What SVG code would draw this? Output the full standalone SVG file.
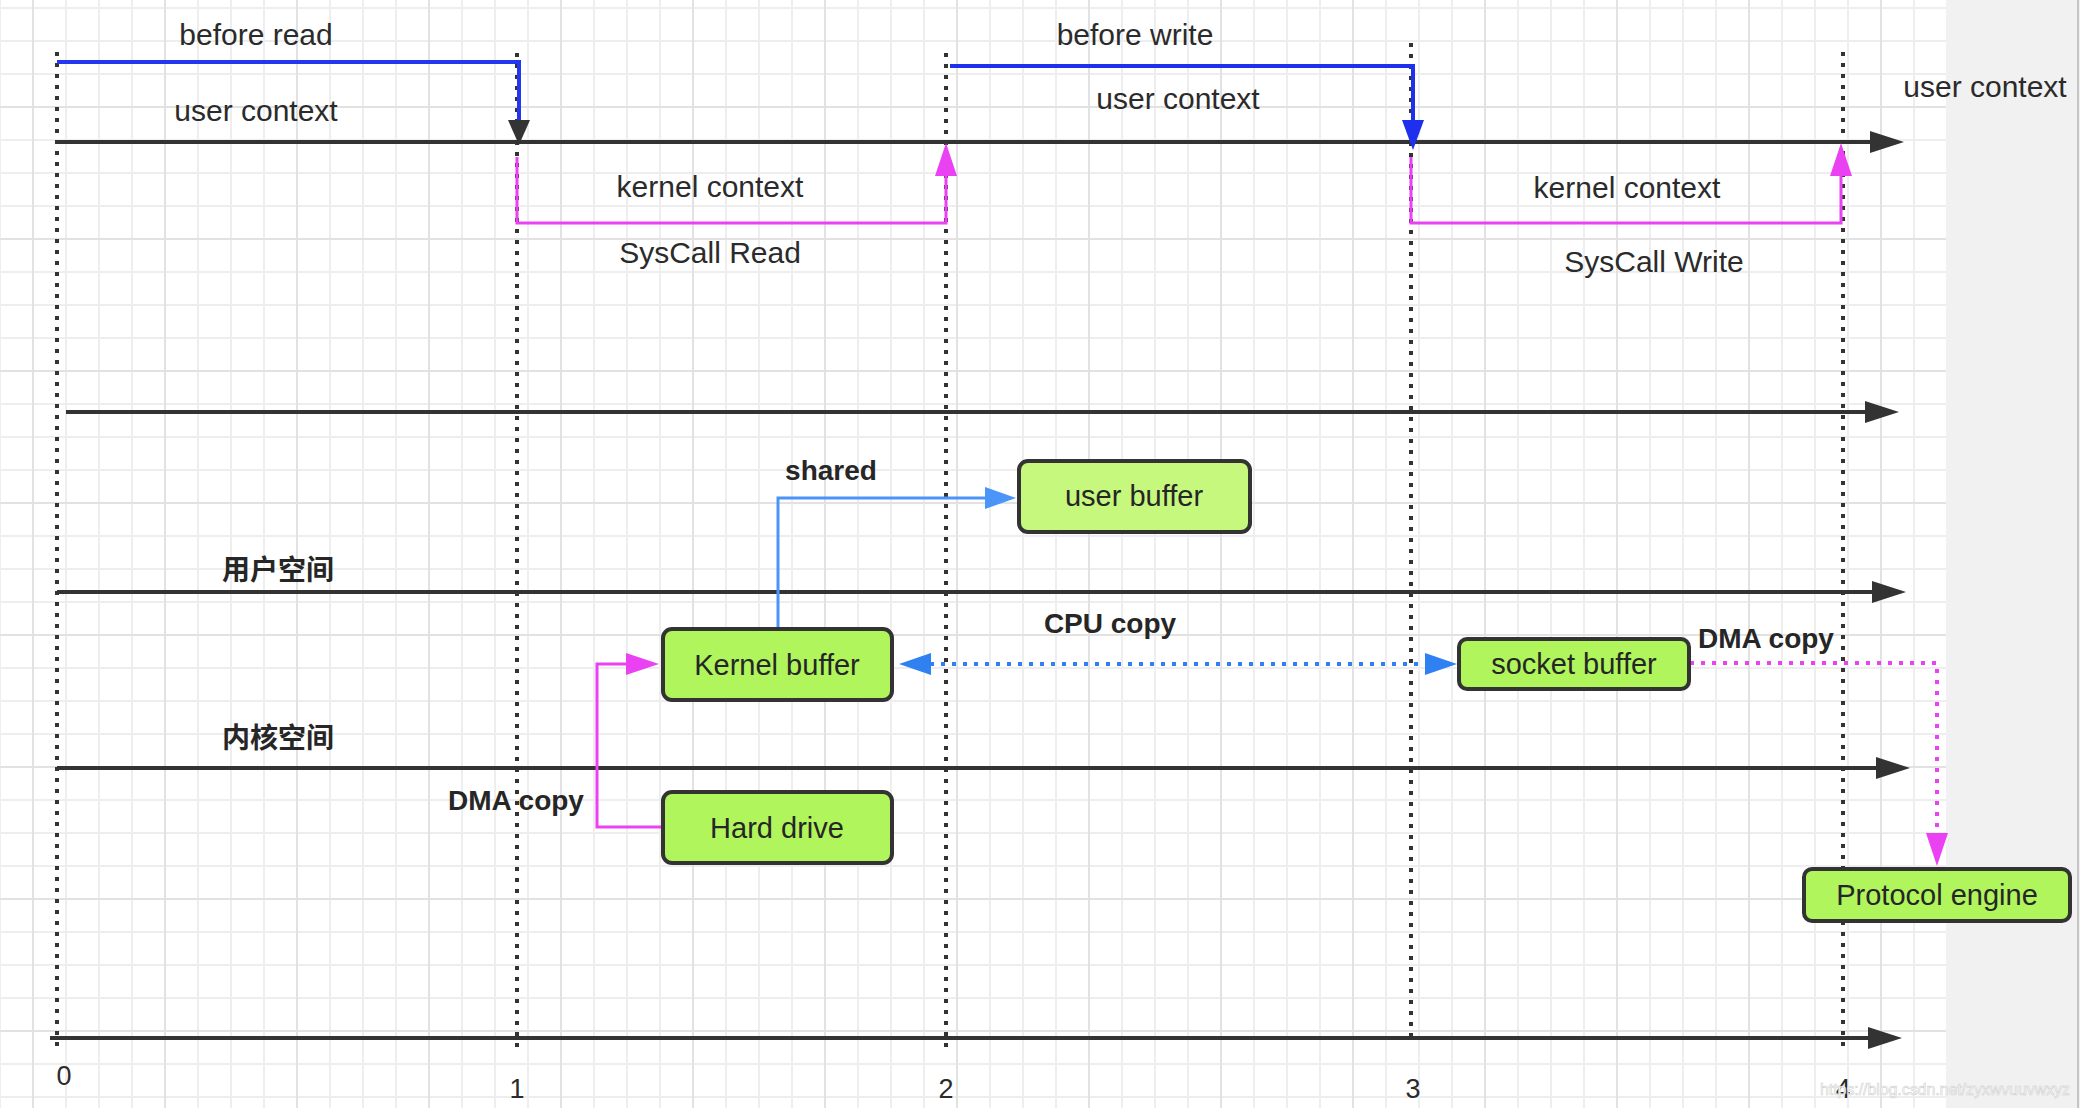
<svg xmlns="http://www.w3.org/2000/svg" width="2080" height="1108" viewBox="0 0 2080 1108">
<style>
.t{font-family:"Liberation Sans",Arial,sans-serif;font-size:30px;fill:#2b2b2b;text-anchor:middle}
.b{font-family:"Liberation Sans",Arial,sans-serif;font-size:28px;fill:#262626;text-anchor:middle;font-weight:bold}
.cjk{font-family:"Liberation Sans","Noto Sans CJK SC",sans-serif;font-size:28px;fill:#262626;text-anchor:middle;font-weight:bold}
.n{font-family:"Liberation Sans",Arial,sans-serif;font-size:27px;fill:#2b2b2b;text-anchor:middle}
.bt{font-family:"Liberation Sans",Arial,sans-serif;font-size:29px;fill:#262626;text-anchor:middle}
.box{stroke:#333;stroke-width:4;fill:#b0f55c}
.vdot{stroke:#333;stroke-width:4;stroke-dasharray:4 7;fill:none}
.axis{stroke:#333;stroke-width:4;fill:none;marker-end:url(#m-dark)}
</style>
<defs>
<pattern id="grid" patternUnits="userSpaceOnUse" x="32" y="106" width="132" height="132">
<path d="M34 0V132M67 0V132M100 0V132M0 34H132M0 67H132M0 100H132" stroke="#eeeeee" stroke-width="2" fill="none"/>
<path d="M1 0V132M0 1H132" stroke="#e2e2e2" stroke-width="2" fill="none"/>
</pattern>
<marker id="m-dark" markerUnits="userSpaceOnUse" markerWidth="35" markerHeight="22" refX="1" refY="11" orient="auto"><path d="M0,0L34,11L0,22z" fill="#333"/></marker>
<marker id="m-dark-s" markerUnits="userSpaceOnUse" markerWidth="26" markerHeight="22" refX="1" refY="11" orient="auto"><path d="M0,0L25,11L0,22z" fill="#333"/></marker>
<marker id="m-blue" markerUnits="userSpaceOnUse" markerWidth="31" markerHeight="22" refX="1" refY="11" orient="auto"><path d="M0,0L30,11L0,22z" fill="#1f2fee"/></marker>
<marker id="m-mag" markerUnits="userSpaceOnUse" markerWidth="34" markerHeight="22" refX="1" refY="11" orient="auto"><path d="M0,0L33,11L0,22z" fill="#ea42f2"/></marker>
<marker id="m-lblue" markerUnits="userSpaceOnUse" markerWidth="32" markerHeight="22" refX="1" refY="11" orient="auto"><path d="M0,0L31,11L0,22z" fill="#4a95f7"/></marker>
<marker id="m-cpu" markerUnits="userSpaceOnUse" markerWidth="33" markerHeight="22" refX="1" refY="11" orient="auto-start-reverse"><path d="M0,0L32,11L0,22z" fill="#2f80f0"/></marker>
</defs>
<rect x="0" y="0" width="2080" height="1108" fill="#ffffff"/>
<rect x="0" y="0" width="1946" height="1108" fill="url(#grid)"/>
<rect x="1946" y="0" width="134" height="1108" fill="#f1f1f1"/>
<line x1="2078" y1="0" x2="2078" y2="1108" stroke="#c4c4c4" stroke-width="2"/>

<g id="timeline-guides">
<line class="vdot" x1="57" y1="52" x2="57" y2="1046"/>
<line class="vdot" x1="517" y1="53" x2="517" y2="1048"/>
<line class="vdot" x1="946" y1="53" x2="946" y2="1048"/>
<line class="vdot" x1="1411" y1="43" x2="1411" y2="1040"/>
<line class="vdot" x1="1843" y1="52" x2="1843" y2="1047"/>
</g>

<g id="connectors">
<path class="axis" d="M57,142H1871"/>
<path class="axis" d="M66,412H1866"/>
<path class="axis" d="M57,592H1873"/>
<path class="axis" d="M57,768H1877"/>
<path class="axis" d="M50,1038H1869"/>
<path d="M57,62H519V121" fill="none" stroke="#2436f0" stroke-width="4" marker-end="url(#m-dark-s)"/>
<path d="M950,66H1413V121" fill="none" stroke="#1f2fee" stroke-width="4" marker-end="url(#m-blue)"/>
<path d="M517,157V223H946V175" fill="none" stroke="#ea42f2" stroke-width="3" marker-end="url(#m-mag)"/>
<path d="M1411,157V223H1841V175" fill="none" stroke="#ea42f2" stroke-width="3" marker-end="url(#m-mag)"/>
<path d="M778,629V498H986" fill="none" stroke="#4a95f7" stroke-width="3" marker-end="url(#m-lblue)"/>
<path d="M930,664H1426" fill="none" stroke="#2f80f0" stroke-width="4" stroke-dasharray="4 7" marker-start="url(#m-cpu)" marker-end="url(#m-cpu)"/>
<path d="M1690,663H1937V834" fill="none" stroke="#ea42f2" stroke-width="4" stroke-dasharray="4 7" marker-end="url(#m-mag)"/>
<path d="M663,827H597V664H627" fill="none" stroke="#ea42f2" stroke-width="3" marker-end="url(#m-mag)"/>
</g>

<g id="labels">
<text class="t" x="256" y="45">before read</text>
<text class="t" x="256" y="121">user context</text>
<text class="t" x="710" y="197">kernel context</text>
<text class="t" x="710" y="263">SysCall Read</text>
<text class="t" x="1135" y="45">before write</text>
<text class="t" x="1178" y="109">user context</text>
<text class="t" x="1627" y="198">kernel context</text>
<text class="t" x="1654" y="272">SysCall Write</text>
<text class="t" x="1985" y="97">user context</text>
<text class="cjk" x="278" y="580">用户空间</text>
<text class="cjk" x="278" y="748">内核空间</text>
<text class="b" x="831" y="480">shared</text>
<text class="b" x="1110" y="633">CPU copy</text>
<text class="b" x="516" y="810">DMA copy</text>
<text class="b" x="1766" y="648">DMA copy</text>
<text class="n" x="64" y="1085">0</text>
<text class="n" x="517" y="1098">1</text>
<text class="n" x="946" y="1098">2</text>
<text class="n" x="1413" y="1098">3</text>
<text class="n" x="1843" y="1098">4</text>
<text x="1820" y="1095" font-family="Liberation Sans, Arial, sans-serif" font-size="16" textLength="250" fill="#ffffff" stroke="#cfcfcf" stroke-width="0.6">https://blog.csdn.net/zyxwvuuvwxyz</text>
</g>

<g id="node-user-buffer">
<rect class="box" x="1019" y="461" width="231" height="71" rx="9" style="fill:#c6f87e"/>
<text class="bt" x="1134" y="506">user buffer</text>
</g>
<g id="node-kernel-buffer">
<rect class="box" x="663" y="629" width="229" height="71" rx="9"/>
<text class="bt" x="777" y="675">Kernel buffer</text>
</g>
<g id="node-hard-drive">
<rect class="box" x="663" y="792" width="229" height="71" rx="9"/>
<text class="bt" x="777" y="838">Hard drive</text>
</g>
<g id="node-socket-buffer">
<rect class="box" x="1459" y="639" width="230" height="50" rx="8"/>
<text class="bt" x="1574" y="674">socket buffer</text>
</g>
<g id="node-protocol-engine">
<rect class="box" x="1804" y="869" width="266" height="52" rx="8"/>
<text class="bt" x="1937" y="905">Protocol engine</text>
</g>
</svg>
